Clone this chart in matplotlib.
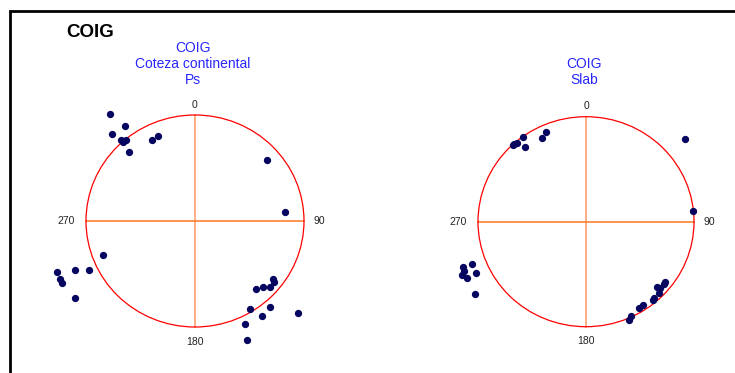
import matplotlib
matplotlib.use("Agg")
import matplotlib.pyplot as plt
import matplotlib.patches as patches

plt.rcParams['font.family'] = ['Liberation Sans', 'DejaVu Sans']

W, H = 735, 373

# Componentes E y N normalizadas (radio del circulo = 1)
ps_e = [-0.777, -0.759, -0.642, -0.682, -0.663, -0.633, -0.603, -0.392, -0.339,
        0.663, 0.828, -0.844, -1.266, -1.101, -0.975, -1.239, -1.217, -1.098,
        0.713, 0.725, 0.627, 0.688, 0.560, 0.505, 0.691, 0.612, 0.945, 0.456, 0.480]
ps_n = [1.007, 0.824, 0.893, 0.767, 0.748, 0.761, 0.648, 0.767, 0.799,
        0.573, 0.088, -0.318, -0.478, -0.459, -0.465, -0.544, -0.585, -0.729,
        -0.550, -0.575, -0.625, -0.625, -0.644, -0.833, -0.814, -0.899, -0.865, -0.969, -1.120]

slab_e = [-0.368, -0.410, -0.586, -0.562, -0.639, -0.667, -0.679, 0.919, 0.991,
          -1.053, -1.139, -1.132, -1.148, -1.099, -1.021, -1.028,
          0.731, 0.725, 0.660, 0.688, 0.676, 0.630, 0.623, 0.531, 0.488, 0.417, 0.395]
slab_n = [0.857, 0.794, 0.807, 0.714, 0.747, 0.737, 0.728, 0.790, 0.102,
          -0.400, -0.431, -0.467, -0.508, -0.533, -0.491, -0.686,
          -0.574, -0.590, -0.619, -0.634, -0.679, -0.730, -0.746, -0.793, -0.822, -0.898, -0.939]

titulo_ps = ['COIG', 'Coteza continental', 'Ps']
titulo_slab = ['COIG', 'Slab']
etiquetas = ['0', '90', '180', '270']

fig = plt.figure(figsize=(W / 100, H / 100), dpi=100)


def px(x, y):
    # pixeles (desde arriba a la izquierda) a fraccion de figura
    return x / W, 1 - y / H


# marco
marco = patches.Rectangle(px(10, 400), (740 - 10) / W, (400 - 11) / H,
                          transform=fig.transFigure, fill=False,
                          edgecolor='black', linewidth=2, clip_on=False)
fig.patches.append(marco)
fig.text(*px(66, 37), 'COIG', fontsize=13.5, fontweight='bold', color='black')

LIM = 1.4


def roseta(cx, cy, rx, ry, e, n, titulo):
    x0, y0 = px(cx - LIM * rx, cy + LIM * ry)
    ax = fig.add_axes([x0, y0, 2 * LIM * rx / W, 2 * LIM * ry / H])
    ax.set_xlim(-LIM, LIM)
    ax.set_ylim(-LIM, LIM)
    ax.axis('off')
    ax.plot([0, 0], [-1, 1], color='#ffa070', linewidth=1.2, zorder=1)
    ax.plot([-1, 1], [0, 0], color='#ff8030', linewidth=1.2, zorder=1)
    ax.add_patch(patches.Ellipse((0, 0), 2, 2, fill=False,
                                 edgecolor='red', linewidth=0.9, zorder=2))
    ax.scatter(e, n, s=18, color='#060660', zorder=3, clip_on=False)
    kw = dict(textcoords='offset points', fontsize=7.5, color='#222222',
              ha='center', va='center')
    ax.annotate(etiquetas[0], (0, 1), xytext=(0, 7.5), **kw)
    ax.annotate(etiquetas[1], (1, 0), xytext=(11, 0), **kw)
    ax.annotate(etiquetas[2], (0, -1), xytext=(0, -10.5), **kw)
    ax.annotate(etiquetas[3], (-1, 0), xytext=(-14, 0), **kw)
    fig.text(*px(cx - 2, 87), '\n'.join(titulo), ha='center', va='bottom',
             fontsize=10, color='#2626ff', linespacing=1.18)


roseta(195, 221, 109, 106, ps_e, ps_n, titulo_ps)
roseta(586, 221.7, 108, 105, slab_e, slab_n, titulo_slab)

fig.savefig('out.png', dpi=100)
